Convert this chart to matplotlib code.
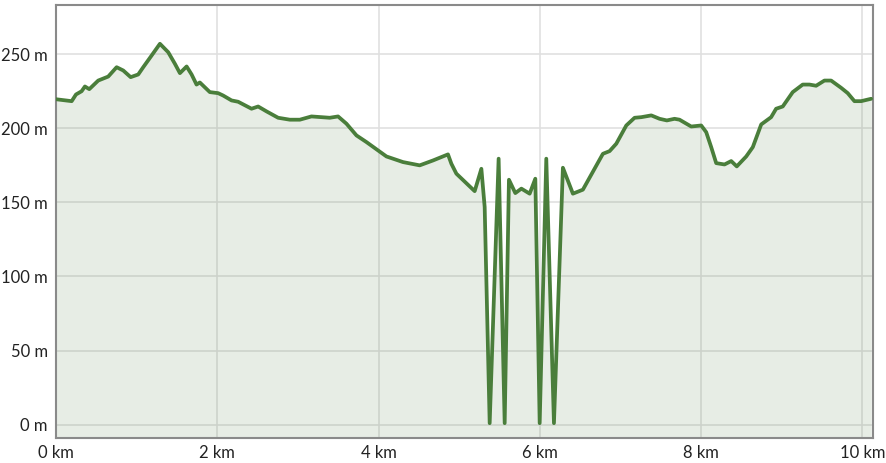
import numpy as np
from matplotlib import pyplot as plt
from matplotlib.ticker import FuncFormatter

# distance along route (km) and elevation (m)
dist_km = [0.000, 0.195, 0.248, 0.318, 0.359, 0.413, 0.524, 0.648, 0.752, 0.834,
           0.926, 1.020, 1.082, 1.186, 1.289, 1.392, 1.475, 1.537, 1.620, 1.682,
           1.743, 1.784, 1.908, 2.011, 2.073, 2.177, 2.259, 2.425, 2.507, 2.611,
           2.755, 2.900, 3.024, 3.168, 3.395, 3.498, 3.602, 3.726, 3.850, 4.098,
           4.304, 4.510, 4.675, 4.861, 4.903, 4.965, 5.192, 5.275, 5.316, 5.378,
           5.489, 5.564, 5.617, 5.696, 5.771, 5.874, 5.944, 5.998, 6.080, 6.175,
           6.286, 6.410, 6.534, 6.782, 6.865, 6.948, 7.072, 7.175, 7.258, 7.382,
           7.485, 7.575, 7.670, 7.732, 7.877, 8.001, 8.063, 8.125, 8.187, 8.290,
           8.373, 8.442, 8.559, 8.641, 8.745, 8.868, 8.930, 9.012, 9.136, 9.260,
           9.343, 9.426, 9.529, 9.612, 9.736, 9.818, 9.901, 9.984, 10.108]
elev_m = [219.5, 218.2, 222.7, 224.9, 228.1, 226.3, 232.1, 234.8, 241.1, 238.9,
          234.4, 236.2, 241.1, 249.0, 256.9, 251.2, 243.4, 237.1, 241.6, 236.2,
          229.4, 230.8, 224.3, 223.6, 222.0, 218.7, 217.8, 213.1, 214.6, 211.3,
          207.0, 205.7, 205.7, 207.9, 207.0, 207.9, 203.0, 195.1, 190.6, 180.9,
          177.1, 174.9, 178.2, 182.3, 176.0, 169.3, 157.5, 172.6, 146.8, 1.0,
          179.4, 1.0, 165.2, 156.2, 159.2, 155.8, 165.9, 1.0, 179.4, 1.0,
          173.3, 155.8, 158.5, 182.7, 184.5, 189.5, 201.8, 207.0, 207.4, 208.6,
          206.3, 205.2, 206.3, 205.7, 201.1, 201.8, 197.3, 187.2, 176.4, 175.5,
          177.8, 174.2, 180.9, 187.2, 202.5, 207.4, 213.1, 214.6, 224.3, 229.4,
          229.4, 228.6, 232.1, 232.1, 227.2, 223.6, 218.2, 218.2, 219.8]

x_ticks = [0, 2, 4, 6, 8, 10]
y_ticks = [0, 50, 100, 150, 200, 250]

plt.rcParams['font.family'] = ['Lato', 'DejaVu Sans']

fig = plt.figure(figsize=(8.87, 4.63), dpi=100)
ax = fig.add_axes([0.0631, 0.054, 0.921, 0.935])

ymin, ymax = -9, 283
ax.fill_between(dist_km, elev_m, ymin, color='#6b8f5e', alpha=0.16, lw=0, zorder=2)
ax.plot(dist_km, elev_m, color='#4a7e3b', lw=2.7, solid_joinstyle='round',
        solid_capstyle='round', zorder=3)

ax.set_xlim(0, 10.13)
ax.set_ylim(ymin, ymax)
ax.set_xticks(x_ticks)
ax.set_yticks(y_ticks)
ax.xaxis.set_major_formatter(FuncFormatter(lambda v, p: f"{v:g} km"))
ax.yaxis.set_major_formatter(FuncFormatter(lambda v, p: f"{v:g} m"))
ax.tick_params(length=0, labelsize=12, colors='#222222')
ax.tick_params(axis='x', pad=5)
ax.tick_params(axis='y', pad=6)
ax.grid(True, color='#e0e0e0', lw=1.2, zorder=1)
ax.set_axisbelow(True)
for s in ax.spines.values():
    s.set_color('#8a8a8a')
    s.set_linewidth(1.5)

fig.savefig('out.png', dpi=100)
